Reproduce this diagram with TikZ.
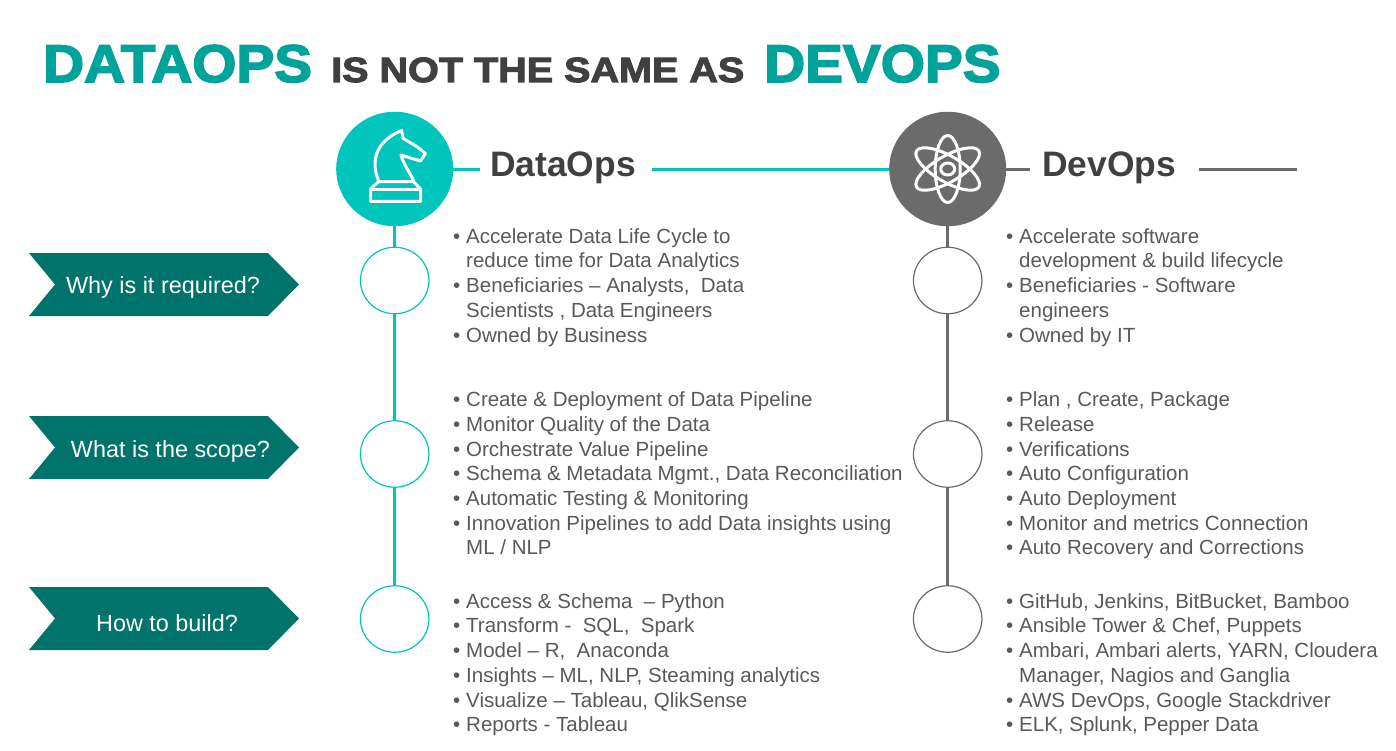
\documentclass[tikz,border=0pt]{standalone}
\usepackage{fontspec}
\usetikzlibrary{shapes.geometric}
\setmainfont{Liberation Sans}
\newfontfamily\titlefont[FakeBold=3,FakeStretch=1.07]{Liberation Sans Bold}
\newfontfamily\midfont[FakeBold=3,FakeStretch=1.13]{Liberation Sans Bold}
\definecolor{tealbig}{HTML}{00C5BC}
\definecolor{titleteal}{HTML}{00A39A}
\definecolor{darkarrow}{HTML}{00736B}
\definecolor{grayc}{HTML}{6B6B6B}
\definecolor{bodygray}{HTML}{595959}
\definecolor{titlegray}{HTML}{404040}
\tikzset{
  x=1pt,y=-1pt,
  bodyline/.style={anchor=base west,inner sep=0pt,text=bodygray,font=\fontsize{20.5}{20.5}\selectfont},
  bigtitle/.style={anchor=base west,inner sep=0pt,text=titleteal,font=\fontsize{53}{53}\titlefont},
  midtitle/.style={anchor=base west,inner sep=0pt,text=titlegray,font=\fontsize{35}{35}\midfont},
  headtext/.style={anchor=base west,inner sep=0pt,text=titlegray,font=\fontsize{35.4}{35.4}\bfseries\selectfont},
  tagtext/.style={anchor=base,inner sep=0pt,text=white,font=\fontsize{23.4}{23.4}\selectfont},
  tagshape/.style={fill=darkarrow,draw=none},
  hubnode/.style={ellipse,draw=none,minimum width=117pt,minimum height=114.5pt,inner sep=0pt},
  ringteal/.style={ellipse,draw=tealbig,line width=1.2pt,fill=white,minimum width=68.5pt,minimum height=66.5pt,inner sep=0pt},
  ringgray/.style={ellipse,draw=grayc,line width=1.2pt,fill=white,minimum width=68.5pt,minimum height=66.5pt,inner sep=0pt},
  linkteal/.style={draw=tealbig,line width=3.2pt},
  linkgray/.style={draw=grayc,line width=3.2pt},
  icon/.style={draw=white,line width=3pt,line join=round,line cap=round},
}
\newcommand{\tagarrow}[1]{% top y
  \fill[tagshape] (29,#1) -- (268,#1) -- (299,#1+31.5) -- (268,#1+63) -- (29,#1+63) -- (55,#1+31.5) -- cycle;
}
\newcommand{\bl}[4]{% name, column x, baseline, text
  \node[bodyline] (#1) at (#2,#3) {#4};}
\newcommand{\bu}[4]{% name, column x, baseline, text with bullet
  \node[bodyline] (#1) at (#2,#3) {#4};
  \node[bodyline] (#1b) at (#2-13,#3) {•};}
\begin{document}
\begin{tikzpicture}
\useasboundingbox (0,0) rectangle (1396,751);
% title
\node[bigtitle] (t1) at (43,82) {DATAOPS};
\node[midtitle] (t2) at (331,82) {IS NOT THE SAME AS};
\node[bigtitle] (t3) at (764,82) {DEVOPS};
% hubs
\node[hubnode,fill=tealbig] (hubA) at (394.7,169) {};
\node[hubnode,fill=grayc] (hubB) at (947.7,169) {};
\node[headtext] (headA) at (490,177) {DataOps};
\node[headtext] (headB) at (1042,177) {DevOps};
\coordinate (gapA1) at (480,169.5);
\coordinate (gapA2) at (652,169.5);
\coordinate (gapB1) at (1030,169.5);
\coordinate (gapB2) at (1199,169.5);
\coordinate (endB) at (1297,169.5);
\draw[linkteal] (hubA.east |- gapA1) -- (gapA1);
\draw[linkteal] (gapA2) -- (hubB.west |- gapA2);
\draw[linkgray] (hubB.east |- gapB1) -- (gapB1);
\draw[linkgray] (gapB2) -- (endB);
% rings
\node[ringteal] (a1) at (394.7,280.5) {};
\node[ringteal] (a2) at (394.7,454) {};
\node[ringteal] (a3) at (394.7,619) {};
\node[ringgray] (b1) at (947.7,280.5) {};
\node[ringgray] (b2) at (947.7,454) {};
\node[ringgray] (b3) at (947.7,619) {};
\draw[linkteal] (hubA) -- (a1);
\draw[linkteal] (a1) -- (a2);
\draw[linkteal] (a2) -- (a3);
\draw[linkgray] (hubB) -- (b1);
\draw[linkgray] (b1) -- (b2);
\draw[linkgray] (b2) -- (b3);
% knight icon
\draw[icon] (378.5,180.5) .. controls (372,165) and (372,143) .. (401.5,130.5) -- (403.2,138.5) -- (416,146) -- (425.5,153.5) -- (420.5,161) -- (401,155) .. controls (404,166) and (410,172) .. (413.5,181);
\draw[icon] (378.5,181.7) -- (413.5,181.7) -- (420.5,189) -- (420.5,201.5) -- (370.5,201.5) -- (370.5,189) -- cycle;
\draw[icon] (371,189.5) -- (420,189.5);
% atom icon
\draw[icon] (947.7,169) ellipse [x radius=12.5,y radius=33.5];
\draw[icon,rotate around={60:(947.7,169)}] (947.7,169) ellipse [x radius=13,y radius=36];
\draw[icon,rotate around={-60:(947.7,169)}] (947.7,169) ellipse [x radius=13,y radius=36];
\draw[icon] (947.7,169) ellipse [x radius=7,y radius=6];
% tags
\tagarrow{253}
\tagarrow{416}
\tagarrow{587}
\node[tagtext] (tag1) at (163,293) {Why is it required?};
\node[tagtext] (tag2) at (170.5,457) {What is the scope?};
\node[tagtext] (tag3) at (167,631) {How to build?};
% column A
\bu{a11}{466}{243.5}{Accelerate Data Life Cycle to}
\bl{a12}{466}{267}{reduce time for Data Analytics}
\bu{a13}{466}{292}{Beneficiaries – Analysts,~ Data}
\bl{a14}{466}{317}{Scientists , Data Engineers}
\bu{a15}{466}{342}{Owned by Business}
\bu{a21}{466}{406}{Create \& Deployment of Data Pipeline}
\bu{a22}{466}{431}{Monitor Quality of the Data}
\bu{a23}{466}{456}{Orchestrate Value Pipeline}
\bu{a24}{466}{480}{Schema \& Metadata Mgmt., Data Reconciliation}
\bu{a25}{466}{505}{Automatic Testing \& Monitoring}
\bu{a26}{466}{530}{Innovation Pipelines to add Data insights using}
\bl{a27}{466}{554}{ML / NLP}
\bu{a31}{466}{608}{Access \& Schema~ – Python}
\bu{a32}{466}{632}{Transform -~ SQL,~ Spark}
\bu{a33}{466}{657}{Model – R,~ Anaconda}
\bu{a34}{466}{682}{Insights – ML, NLP, Steaming analytics}
\bu{a35}{466}{707}{Visualize – Tableau, QlikSense}
\bu{a36}{466}{731}{Reports - Tableau}
% column B
\bu{b11}{1019}{243.5}{Accelerate software}
\bl{b12}{1019}{267}{development \& build lifecycle}
\bu{b13}{1019}{292}{Beneficiaries - Software}
\bl{b14}{1019}{317}{engineers}
\bu{b15}{1019}{342}{Owned by IT}
\bu{b21}{1019}{406}{Plan , Create, Package}
\bu{b22}{1019}{431}{Release}
\bu{b23}{1019}{456}{Verifications}
\bu{b24}{1019}{480}{Auto Configuration}
\bu{b25}{1019}{505}{Auto Deployment}
\bu{b26}{1019}{530}{Monitor and metrics Connection}
\bu{b27}{1019}{554}{Auto Recovery and Corrections}
\bu{b31}{1019}{608}{GitHub, Jenkins, BitBucket, Bamboo}
\bu{b32}{1019}{632}{Ansible Tower \& Chef, Puppets}
\bu{b33}{1019}{657}{Ambari, Ambari alerts, YARN, Cloudera}
\bl{b34}{1019}{682}{Manager, Nagios and Ganglia}
\bu{b35}{1019}{707}{AWS DevOps, Google Stackdriver}
\bu{b36}{1019}{731}{ELK, Splunk, Pepper Data}
\end{tikzpicture}
\end{document}
